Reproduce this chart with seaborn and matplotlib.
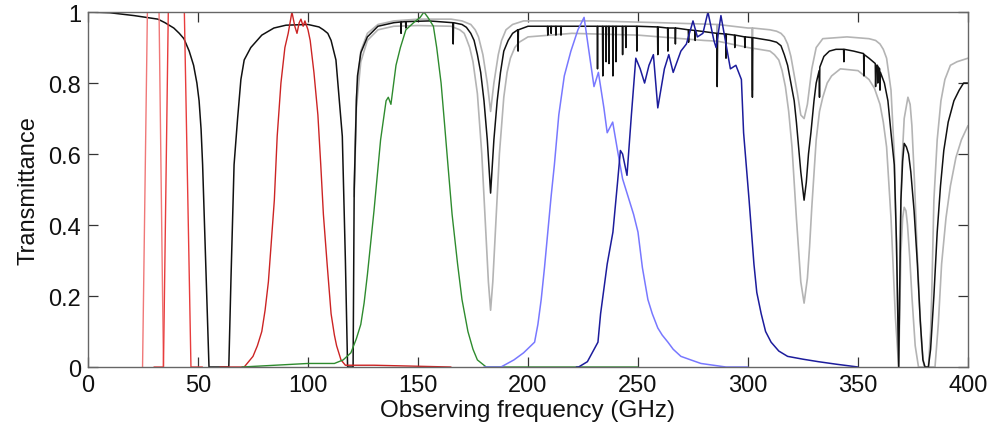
import numpy as np
import pandas as pd
import matplotlib
matplotlib.use("Agg")
import matplotlib.pyplot as plt
import seaborn as sns

# ---------------- data: (frequency GHz, transmittance) ----------------
black_pts = [
    (0, 1.0), (10, 0.998), (21, 0.99), (31.8, 0.98), (35, 0.97), (39, 0.955), (41.5, 0.94),
    (43.6, 0.925), (46, 0.89), (48, 0.85), (49.5, 0.80), (50.5, 0.75), (51.4, 0.67), (52.1, 0.57),
    (53.6, 0.28), (55, 0.0), (64, 0.0), (65, 0.25), (66.4, 0.57), (68, 0.70), (69.5, 0.81),
    (71, 0.865), (74, 0.90), (79, 0.935), (84.5, 0.955), (90, 0.963), (100, 0.965), (105, 0.958),
    (107, 0.95), (109, 0.94), (110.5, 0.92), (112.7, 0.865), (114, 0.77), (115.6, 0.65), (117, 0.3),
    (118, 0.0), (120.5, 0.0), (121, 0.5), (122, 0.75), (122.5, 0.82), (124, 0.885), (127, 0.93),
    (131.8, 0.96), (139, 0.97), (142.15, 0.972), (142.3, 0.94), (142.45, 0.972), (144.35, 0.973),
    (144.5, 0.955), (144.65, 0.973), (155, 0.975), (165.85, 0.97), (166, 0.91), (166.15, 0.97),
    (170, 0.965), (172, 0.957), (174, 0.94), (175.5, 0.92), (177, 0.88), (178.5, 0.83), (180, 0.75),
    (181.5, 0.64), (183, 0.49), (184.5, 0.64), (186, 0.75), (187.5, 0.83), (189, 0.89), (191, 0.92),
    (193, 0.94), (195.35, 0.95), (195.5, 0.89), (195.65, 0.95), (200, 0.96),
    (208.85, 0.96), (209, 0.935), (209.15, 0.96), (210.35, 0.96), (210.5, 0.94), (210.65, 0.96),
    (212.55, 0.96), (212.7, 0.935), (212.85, 0.96), (214.85, 0.96), (215, 0.935), (215.15, 0.96),
    (231.45, 0.96), (231.6, 0.84), (231.75, 0.96), (233.85, 0.96), (234, 0.82), (234.15, 0.96),
    (235.35, 0.96), (235.5, 0.86), (235.65, 0.96), (236.65, 0.96), (236.8, 0.855), (236.95, 0.96),
    (238.45, 0.96), (238.6, 0.82), (238.75, 0.96), (239.85, 0.96), (240, 0.86), (240.15, 0.96),
    (242.85, 0.96), (243, 0.88), (243.15, 0.96), (244.35, 0.96), (244.5, 0.90), (244.65, 0.96),
    (249.35, 0.96), (249.5, 0.89), (249.65, 0.96), (258.85, 0.958), (259, 0.88), (259.15, 0.958),
    (263.45, 0.955), (263.6, 0.89), (263.75, 0.955), (266.85, 0.955), (267, 0.91), (267.15, 0.955),
    (272.85, 0.95), (273, 0.915), (273.15, 0.95), (275.85, 0.948), (276, 0.92), (276.15, 0.948),
    (285.85, 0.94), (286, 0.79), (286.15, 0.94), (289.85, 0.938), (290, 0.87), (290.15, 0.938),
    (293.85, 0.935), (294, 0.90), (294.15, 0.935), (298.45, 0.93), (298.6, 0.90), (298.75, 0.93),
    (301.85, 0.928), (302, 0.76), (302.15, 0.928), (310, 0.92), (313, 0.915), (315, 0.905),
    (316.5, 0.88), (318, 0.85), (319.5, 0.80), (321, 0.75), (322, 0.69), (323, 0.62), (324, 0.55),
    (325.5, 0.47), (326.5, 0.52), (327.5, 0.60), (328.6, 0.66), (330, 0.75), (331, 0.80),
    (332.35, 0.835), (332.5, 0.76), (332.65, 0.845), (334.5, 0.875), (337, 0.89), (340, 0.895),
    (343.45, 0.895), (343.6, 0.86), (343.75, 0.895), (348, 0.89), (352.55, 0.883), (352.7, 0.82),
    (352.85, 0.88), (355, 0.87), (357.85, 0.855), (358, 0.79), (358.2, 0.85), (358.85, 0.85),
    (359, 0.80), (359.2, 0.845), (359.85, 0.84), (360, 0.78), (360.2, 0.83), (362, 0.80),
    (363.6, 0.75), (365, 0.66), (366.5, 0.57), (367.5, 0.35), (368.5, 0.0), (369.5, 0.47),
    (370.3, 0.58), (371, 0.63), (372, 0.62), (373, 0.60), (374, 0.55), (375.5, 0.44), (377, 0.29),
    (378.3, 0.13), (379.5, 0.02), (380.5, 0.0), (382, 0.0), (383, 0.05), (384.5, 0.20), (386, 0.38),
    (387.5, 0.51), (389, 0.61), (391, 0.69), (393.6, 0.75), (396, 0.78), (398, 0.80), (400, 0.80),
]

gray_hi_pts = [
    (121, 0.5), (122, 0.76), (124, 0.89), (127, 0.94), (131.8, 0.965), (139, 0.975), (150, 0.98),
    (165, 0.98), (170, 0.975), (174, 0.965), (176, 0.95), (177.5, 0.93), (179.5, 0.88), (181.5, 0.80),
    (183, 0.72), (184.5, 0.80), (186.5, 0.88), (188, 0.92), (190, 0.95), (193, 0.965), (198, 0.975),
    (230, 0.975), (260, 0.97), (285.85, 0.965), (286, 0.91), (286.15, 0.965), (300, 0.955),
    (301.85, 0.955), (302, 0.89), (302.15, 0.955), (310, 0.95), (313, 0.946), (315, 0.94),
    (316.5, 0.93), (318, 0.91), (319.5, 0.875), (320.5, 0.84), (322.5, 0.77), (324, 0.71),
    (325.5, 0.70), (327, 0.74), (328, 0.79), (329, 0.84), (331, 0.90), (334, 0.925), (345, 0.93),
    (355, 0.925), (358, 0.92), (360, 0.91), (361.5, 0.895), (363, 0.87), (365, 0.78), (366.5, 0.60),
    (367.8, 0.25), (368.5, 0.0), (369.3, 0.40), (370, 0.58), (371, 0.70), (372.7, 0.76),
    (373.7, 0.74), (374.5, 0.68), (375.7, 0.52), (376.8, 0.34), (378, 0.17), (379, 0.06),
    (380, 0.0), (382, 0.0), (383, 0.10), (383.5, 0.20), (384.5, 0.47), (386, 0.64), (387.7, 0.75),
    (389.5, 0.81), (392, 0.85), (395, 0.86), (400, 0.87),
]

gray_lo_pts = [
    (121, 0.48), (122, 0.73), (124, 0.86), (127, 0.92), (131.8, 0.95), (139, 0.96), (150, 0.962),
    (165, 0.96), (169, 0.95), (171, 0.94), (172, 0.925), (173.5, 0.90), (175, 0.86), (177, 0.77),
    (179, 0.60), (181, 0.36), (182, 0.24), (183, 0.16), (184, 0.24), (185, 0.36), (187, 0.60),
    (189, 0.76), (190.5, 0.83), (192, 0.87), (194, 0.90), (196, 0.915), (200, 0.93), (220, 0.94),
    (250, 0.935), (280, 0.92), (285.85, 0.918), (286, 0.80), (286.15, 0.918), (300, 0.90),
    (301.85, 0.898), (302, 0.78), (302.15, 0.898), (310, 0.89), (312, 0.88), (314, 0.865),
    (315.5, 0.835), (317, 0.79), (318.5, 0.72), (320, 0.62), (322, 0.42), (324, 0.24), (325.5, 0.18),
    (327, 0.25), (328, 0.34), (329, 0.45), (331, 0.64), (332.5, 0.72), (334, 0.76), (336, 0.80),
    (338, 0.82), (342, 0.84), (350, 0.835), (355, 0.81), (357.5, 0.785), (360, 0.74), (361.5, 0.69),
    (363, 0.62), (365, 0.42), (367, 0.14), (368.5, 0.0), (369.5, 0.32), (370.3, 0.42), (371, 0.45),
    (371.8, 0.44), (372.5, 0.40), (373.5, 0.31), (374.5, 0.20), (376, 0.06), (377.5, 0.0),
    (385, 0.0), (386.5, 0.12), (388, 0.29), (390, 0.42), (392, 0.51), (394.5, 0.59), (397, 0.64),
    (400, 0.68),
]

red1_pts = [(24.8, 0.0), (27.0, 1.0), (32.3, 1.0), (34.3, 0.0)]
red2_pts = [(30.0, 0.0), (34.3, 0.0), (36.5, 1.0), (43.8, 1.0), (46.8, 0.0), (52.0, 0.0)]

red3_pts = [
    (60, 0.0), (71, 0.0), (75, 0.03), (77, 0.06), (79, 0.10), (80.5, 0.16), (82, 0.24), (83.3, 0.35),
    (84.7, 0.47), (86, 0.65), (87.7, 0.80), (89.5, 0.90), (91, 0.94), (92.7, 1.0), (94, 0.96),
    (95, 0.94), (96, 0.97), (96.8, 0.98), (97.8, 0.96), (98.6, 0.975), (100, 0.95), (101, 0.92),
    (102.7, 0.83), (104.5, 0.71), (105.8, 0.57), (107, 0.43), (108.7, 0.29), (110.5, 0.15),
    (112, 0.09), (113, 0.06), (115, 0.02), (117, 0.005), (130, 0.005), (165, 0.0),
]

green_pts = [
    (70, 0.0), (100, 0.01), (112, 0.01), (116, 0.02), (119.5, 0.04), (122, 0.08), (124, 0.12),
    (125.5, 0.18), (127, 0.26), (130, 0.44), (133, 0.64), (135.5, 0.75), (136.5, 0.76), (137.7, 0.74),
    (140, 0.85), (142, 0.90), (144.5, 0.95), (148, 0.97), (151, 0.985), (152.7, 1.0), (154.5, 0.985),
    (157, 0.96), (158.5, 0.90), (160.5, 0.80), (162, 0.69), (163.6, 0.57), (165.5, 0.43), (168, 0.29),
    (170, 0.19), (172.7, 0.10), (175, 0.05), (177, 0.02), (181, 0.0), (200, 0.0), (250, 0.0),
]

lblue_pts = [
    (180, 0.0), (187.7, 0.0), (193.6, 0.02), (198, 0.04), (203, 0.07), (204.5, 0.12), (206, 0.19),
    (207.5, 0.28), (209, 0.38), (210.5, 0.48), (212, 0.57), (214, 0.71), (216.5, 0.82), (219.5, 0.89),
    (222.7, 0.95), (225.5, 0.985), (227, 0.92), (230, 0.79), (232, 0.83), (234.5, 0.73), (236, 0.66),
    (238.5, 0.69), (240.7, 0.61), (243, 0.53), (246, 0.47), (248, 0.43), (250, 0.38), (252, 0.28),
    (254.5, 0.19), (256.5, 0.15), (259, 0.11), (261, 0.09), (263.6, 0.07), (266, 0.05), (269.5, 0.03),
    (274, 0.02), (278.6, 0.01), (290, 0.0), (300, 0.0),
]

dblue_pts = [
    (222, 0.0), (223, 0.0), (227, 0.015), (231.8, 0.07), (233, 0.15), (236, 0.29), (238.6, 0.38),
    (240.7, 0.52), (242, 0.61), (243, 0.60), (245, 0.54), (247, 0.71), (249, 0.87), (251, 0.84),
    (253, 0.80), (255, 0.85), (257, 0.88), (259, 0.73), (262, 0.84), (264, 0.88), (266, 0.83),
    (269.5, 0.89), (272, 0.91), (275, 0.975), (277, 0.93), (279.5, 0.94), (281.8, 1.0), (284.5, 0.92),
    (285.5, 0.90), (287.7, 0.99), (290, 0.91), (292, 0.84), (294.5, 0.85), (297, 0.81), (298, 0.66),
    (300.5, 0.47), (302.7, 0.29), (304, 0.21), (306, 0.15), (308, 0.10), (310.5, 0.07), (314, 0.045),
    (318, 0.03), (325, 0.022), (332, 0.015), (340, 0.008), (350, 0.0),
]

x_ticks = [0, 50, 100, 150, 200, 250, 300, 350, 400]
y_ticks = [0, 0.2, 0.4, 0.6, 0.8, 1]
y_tick_labels = ["0", "0.2", "0.4", "0.6", "0.8", "1"]

# ---------------- figure ----------------
sns.set_theme(style="ticks")
plt.rcParams['font.family'] = ['Liberation Sans', 'DejaVu Sans']

fig = plt.figure(figsize=(9.92, 4.35), dpi=100)
ax = fig.add_axes([0.0887, 0.154, 0.8871, 0.816])

series = [
    (gray_hi_pts, "#b4b4b4", 1.2),
    (gray_lo_pts, "#b4b4b4", 1.2),
    (black_pts, "#111111", 1.1),
    (red1_pts, "#f07878", 1.0),
    (red2_pts, "#e83c3c", 1.0),
    (red3_pts, "#cc2424", 1.0),
    (green_pts, "#2e8b2e", 1.0),
    (lblue_pts, "#7878ff", 1.1),
    (dblue_pts, "#1c1c9c", 1.1),
]
for pts, col, lw in series:
    df = pd.DataFrame(pts, columns=["f", "t"])
    sns.lineplot(data=df, x="f", y="t", ax=ax, color=col, linewidth=lw,
                 sort=False, estimator=None)

ax.set_xlim(0, 400)
ax.set_ylim(0, 1)
ax.set_xticks(x_ticks)
ax.set_xticklabels([str(v) for v in x_ticks])
ax.set_yticks(y_ticks)
ax.set_yticklabels(y_tick_labels)
ax.tick_params(direction="in", length=7, width=0.9, color="#333333",
               top=True, right=True, labelsize=17, pad=5, labelcolor="#111111")
for s in ax.spines.values():
    s.set_visible(True)
    s.set_color("#666666")
    s.set_linewidth(1.0)
ax.set_xlabel("Observing frequency (GHz)", fontsize=17.5, color="#111111", labelpad=2)
ax.set_ylabel("Transmittance", fontsize=17, color="#111111", labelpad=6)

fig.savefig("out.png", dpi=100)
